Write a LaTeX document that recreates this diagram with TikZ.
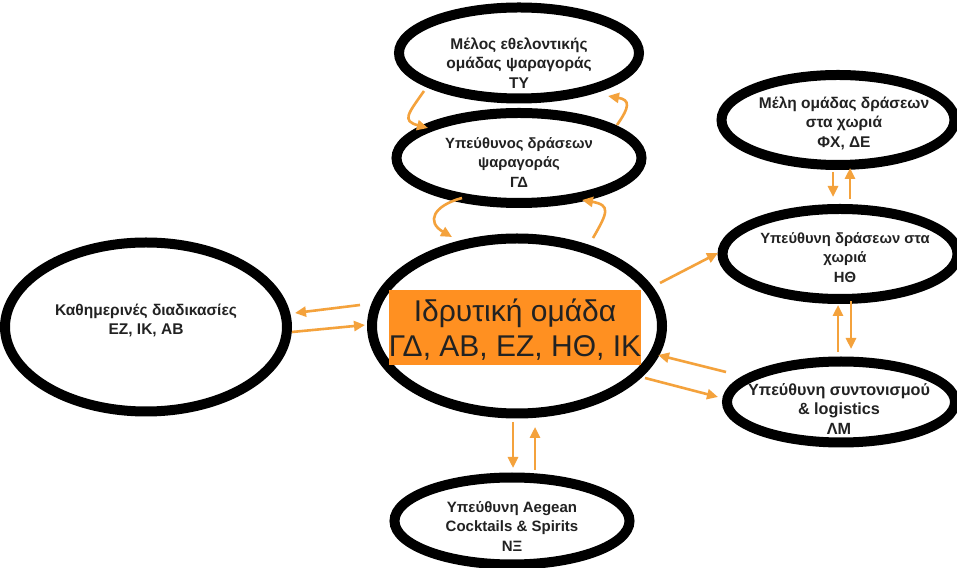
\documentclass[tikz,border=0pt]{standalone}
\usepackage{fontspec}
\setmainfont{Liberation Sans}
\usepackage{xcolor}
\usepackage{tikz}
\usetikzlibrary{calc,arrows.meta,shapes.geometric}
\definecolor{ink}{HTML}{222222}
\definecolor{core}{HTML}{FF9021}
\definecolor{flow}{HTML}{F4A23C}
% #1 sideways offset, #2 drop, #3 lines
\newcommand{\boxlines}[3][0pt]{\hspace*{#1}\hspace*{#1}\raisebox{-#2}[\height][\depth]{\begin{tabular}{@{}c@{}}#3\end{tabular}}}
\tikzset{
  oval/.style={ellipse, draw=black, line width=10pt, inner sep=-50pt, text=ink,
    font=\bfseries\fontsize{#1}{19.5}\selectfont},
  oval/.default=15.5,
  hub/.style={ellipse, draw=black, line width=10pt, minimum width=290pt, minimum height=175pt},
  corebox/.style={rectangle, fill=core, inner sep=0pt, minimum width=246pt, minimum height=75pt,
    text=ink, align=center, font=\fontsize{30}{35}\selectfont},
  arr/.style={draw=flow, line width=2.6pt, -{Triangle[length=11pt,width=10pt]}},
  loop/.style={arr, looseness=1.9},
}
\begin{document}
\begin{tikzpicture}[x=1pt,y=1pt]
  \useasboundingbox (0,0) rectangle (957,567);
  \fill[white] (0,0) rectangle (957,567);
  % ovals
  \node[hub] (found) at (517,241) {};
  \node[corebox] (team) at (515,239.5) {\boxlines{5pt}{Ιδρυτική ομάδα\\ΓΔ, ΑΒ, ΕΖ, ΗΘ, ΙΚ}};
  \node[oval, minimum width=240pt, minimum height=91pt] (tyn) at (519,514)
    {\boxlines{12pt}{Μέλος εθελοντικής\\ομάδας ψαραγοράς\\ΤΥ}};
  \node[oval=14.8, minimum width=245pt, minimum height=90pt] (gd) at (519,409)
    {\boxlines{6pt}{Υπεύθυνος δράσεων\\ψαραγοράς\\ΓΔ}};
  \node[oval, minimum width=282pt, minimum height=169pt] (daily) at (146,240)
    {\boxlines{-6pt}{Καθημερινές διαδικασίες\\ΕΖ, ΙΚ, ΑΒ}};
  \node[oval=15.5, minimum width=233pt, minimum height=90pt] (crew) at (838,447)
    {\boxlines[6pt]{4pt}{Μέλη ομάδας δράσεων\\στα χωριά\\ΦΧ, ΔΕ}};
  \node[oval=14.8, minimum width=235pt, minimum height=90pt] (vill) at (840,313)
    {\boxlines[5pt]{5pt}{Υπεύθυνη δράσεων στα\\χωριά\\ΗΘ}};
  \node[oval=16.2, minimum width=228pt, minimum height=81pt] (logi) at (841,165)
    {\boxlines[-2pt]{9pt}{Υπεύθυνη συντονισμού\\\& logistics\\ΛΜ}};
  \node[oval=15, minimum width=235pt, minimum height=87pt] (drinks) at (512,46)
    {\boxlines{7pt}{Υπεύθυνη Aegean\\Cocktails \& Spirits\\ΝΞ}};
  % arrows
  \draw[loop] ([shift={(-95,-38)}]tyn.center) to[out=235,in=165] ([shift={(-91,30)}]gd.center);
  \draw[loop] ([shift={(98,33)}]gd.center) to[out=55,in=-10] ([shift={(89,-43)}]tyn.center);
  \draw[loop] ([shift={(-57,-40)}]gd.center) to[out=195,in=150] ([shift={(-65,89)}]found.center);
  \draw[loop] ([shift={(76,88)}]found.center) to[out=60,in=-10] ([shift={(63,-42)}]gd.center);
  \draw[arr] ([shift={(-157,21)}]found.center) -- ([shift={(149,14)}]daily.center);
  \draw[arr] ([shift={(146,-5)}]daily.center) -- ([shift={(-152,1)}]found.center);
  \draw[arr] ([shift={(143,43)}]found.center) -- ([shift={(-122,1)}]vill.center);
  \draw[arr] ([shift={(-5,-52)}]crew.center) -- ([shift={(-7,57)}]vill.center);
  \draw[arr] ([shift={(10,55)}]vill.center) -- ([shift={(12,-48)}]crew.center);
  \draw[arr] ([shift={(-3,50)}]logi.center) -- ([shift={(-2,-51)}]vill.center);
  \draw[arr] ([shift={(11,-47)}]vill.center) -- ([shift={(10,53)}]logi.center);
  \draw[arr] ([shift={(-115,30)}]logi.center) -- ([shift={(141,-29)}]found.center);
  \draw[arr] ([shift={(128,-52)}]found.center) -- ([shift={(-123,5)}]logi.center);
  \draw[arr] ([shift={(-4,-96)}]found.center) -- ([shift={(1,53)}]drinks.center);
  \draw[arr] ([shift={(23,51)}]drinks.center) -- ([shift={(18,-101)}]found.center);
\end{tikzpicture}
\end{document}
